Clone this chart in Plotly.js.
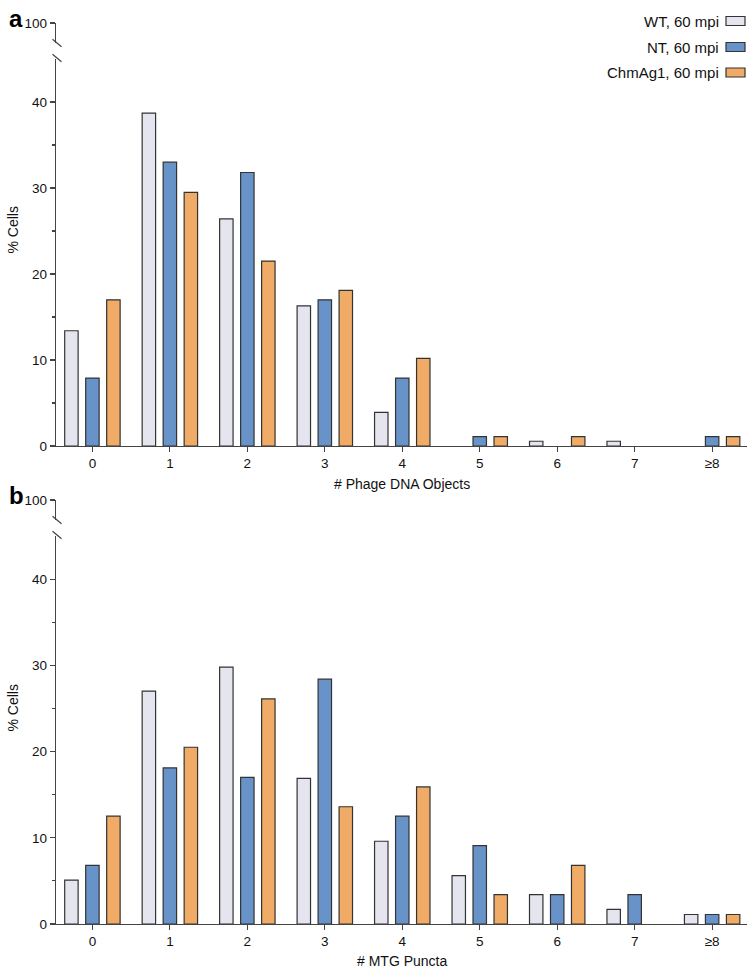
<!DOCTYPE html>
<html>
<head>
<meta charset="utf-8">
<script src="https://cdn.plot.ly/plotly-3.0.1.min.js"></script>
<style>html,body{margin:0;padding:0;background:#fff;}#chart{width:750px;height:970px;}</style>
</head>
<body>
<div id="chart"></div>
<script>
// ---- data ----
var categories = ["0", "1", "2", "3", "4", "5", "6", "7", "≥8"];
var seriesNames = ["WT, 60 mpi", "NT, 60 mpi", "ChmAg1, 60 mpi"];
var dnaWT  = [13.4, 38.7, 26.4, 16.3, 3.9, 0, 0.55, 0.55, 0];
var dnaNT  = [7.9, 33.0, 31.8, 17.0, 7.9, 1.1, 0, 0, 1.1];
var dnaChm = [17.0, 29.5, 21.5, 18.1, 10.2, 1.1, 1.1, 0, 1.1];
var mtgWT  = [5.1, 27.0, 29.8, 16.9, 9.6, 5.6, 3.4, 1.7, 1.1];
var mtgNT  = [6.8, 18.1, 17.0, 28.4, 12.5, 9.1, 3.4, 3.4, 1.1];
var mtgChm = [12.5, 20.5, 26.1, 13.6, 15.9, 3.4, 6.8, 0, 1.1];
var yTicks = [0, 10, 20, 30, 40];
var yMinorTicks = [5, 15, 25, 35];
var breakTick = [100];
var xTitleA = "# Phage DNA Objects";
var xTitleB = "# MTG Puncta";
var yTitle = "% Cells";

// ---- styling ----
var colors = ["#e5e5ef", "#6893c8", "#f0ab66"];
var outline = "#333333";
var axisColor = "#444444";
var FONT = "Liberation Sans, Arial, sans-serif";
var W = 750, H = 970, ML = 56, MR = 3;
var PW = W - ML - MR;
function px(x) { return (x - ML) / PW; }
function py(y) { return 1 - y / H; }

function barTrace(vals, i, xa, ya) {
  return {type: "bar", x: categories, y: vals, name: seriesNames[i], xaxis: xa, yaxis: ya,
    marker: {color: colors[i], line: {color: outline, width: vals.map(function (v) { return v > 0 ? 1.2 : 0; })}},
    showlegend: false, hoverinfo: "x+y"};
}
var traces = [];
[dnaWT, dnaNT, dnaChm].forEach(function (vals, i) { traces.push(barTrace(vals, i, "x", "y")); });
[mtgWT, mtgNT, mtgChm].forEach(function (vals, i) { traces.push(barTrace(vals, i, "x2", "y3")); });
// empty traces so the upper (break) axis segments get subplots
traces.push({type: "scatter", x: [], y: [], xaxis: "x", yaxis: "y2", showlegend: false});
traces.push({type: "scatter", x: [], y: [], xaxis: "x2", yaxis: "y4", showlegend: false});

var xRange = [-0.47, 8.45];
var tickFont = {family: FONT, size: 13.5, color: "#111"};
function xAxis(anchor) {
  return {anchor: anchor, domain: [0, 1], type: "category", range: xRange,
    showline: true, linecolor: axisColor, linewidth: 1.2, ticks: "outside", ticklen: 5,
    tickcolor: axisColor, tickwidth: 1.2, showgrid: false, zeroline: false,
    tickfont: tickFont, fixedrange: true};
}
function yLower(domain, anchor) {
  return {anchor: anchor, domain: domain, range: [0, 45], tickvals: yTicks,
    showline: true, linecolor: axisColor, linewidth: 1.2, ticks: "outside", ticklen: 5,
    tickcolor: axisColor, tickwidth: 1.2, showgrid: false, zeroline: false,
    minor: {tickvals: yMinorTicks, ticks: "outside", ticklen: 3, tickcolor: axisColor, tickwidth: 1.2, showgrid: false},
    tickfont: tickFont, fixedrange: true};
}
function yUpper(domain, anchor) {
  return {anchor: anchor, domain: domain, range: [97, 100], tickvals: breakTick,
    showline: true, linecolor: axisColor, linewidth: 1.2, ticks: "outside", ticklen: 5,
    tickcolor: axisColor, tickwidth: 1.2, showgrid: false, zeroline: false,
    tickfont: tickFont, fixedrange: true};
}

// pixel positions of panels
var aZero = 446, aTop = 59, aUpTop = 23, aUpBot = 43;
var bZero = 924, bTop = 536, bUpTop = 500, bUpBot = 520;

var shapes = [];
function slash(cy) {
  shapes.push({type: "line", xref: "paper", yref: "paper",
    x0: px(ML + 1 - 4.5), x1: px(ML + 1 + 4.5), y0: py(cy - 3.8), y1: py(cy + 3.8),
    line: {color: axisColor, width: 1.2}});
}
slash(aUpBot); slash(aTop - 1);
slash(bUpBot); slash(bTop - 1);

var annotations = [];
function ann(text, x, y, opts) {
  var a = {text: text, xref: "paper", yref: "paper", x: px(x), y: py(y), showarrow: false,
    font: {family: FONT, size: 14, color: "#111"}, xanchor: "center", yanchor: "middle"};
  for (var k in opts) a[k] = opts[k];
  annotations.push(a);
}
ann("<b>a</b>", 16, 18, {font: {family: FONT, size: 24, color: "#000"}});
ann("<b>b</b>", 16, 496, {font: {family: FONT, size: 24, color: "#000"}});
ann(xTitleA, 401.5, 484, {});
ann(xTitleB, 401.5, 961, {});
ann(yTitle, 12.5, 230, {textangle: -90});
ann(yTitle, 12.5, 708, {textangle: -90});

// legend (text right-aligned, swatch on the right)
var legendY = [21, 47, 72.5];
seriesNames.forEach(function (name, i) {
  ann(name, 721, legendY[i], {xanchor: "right", font: {family: FONT, size: 15, color: "#111"}});
  shapes.push({type: "rect", xref: "paper", yref: "paper",
    x0: px(726), x1: px(745), y0: py(legendY[i] - 4.5), y1: py(legendY[i] + 4.5),
    fillcolor: colors[i], line: {color: outline, width: 1.2}});
});

var layout = {
  width: W, height: H,
  margin: {l: ML, r: MR, t: 0, b: 0},
  paper_bgcolor: "#fff", plot_bgcolor: "rgba(0,0,0,0)",
  barmode: "group", bargap: 0.187, bargroupgap: 0.36,
  showlegend: false,
  font: {family: FONT, size: 13.5, color: "#111"},
  xaxis: xAxis("y"),
  yaxis: yLower([py(aZero), py(aTop)], "x"),
  yaxis2: yUpper([py(aUpBot), py(aUpTop)], "x"),
  xaxis2: xAxis("y3"),
  yaxis3: yLower([py(bZero), py(bTop)], "x2"),
  yaxis4: yUpper([py(bUpBot), py(bUpTop)], "x2"),
  shapes: shapes,
  annotations: annotations
};

Plotly.newPlot("chart", traces, layout, {displayModeBar: false, staticPlot: true});
</script>
</body>
</html>
